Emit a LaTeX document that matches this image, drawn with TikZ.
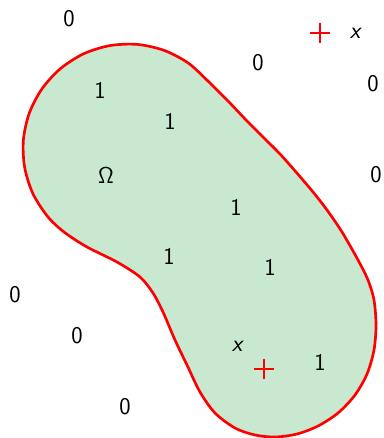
\documentclass[tikz,border=0pt]{standalone}
\begin{document}
\begin{tikzpicture}[x=0.75pt,y=-0.75pt,
  lab/.style={font=\fontsize{18}{20}\selectfont\sffamily, inner sep=0pt},
  pluss/.style={draw=red, line width=1.5pt}]
\useasboundingbox (0,0) rectangle (383,438);
\definecolor{omfill}{RGB}{200,232,208}
\draw[red, line width=2pt, fill=omfill] plot[smooth cycle, tension=0.5] coordinates {
 (208.4,81.5) (188.2,63.0) (163.9,50.3) (137.2,44.4) (109.8,45.6) (83.6,53.8) (60.5,68.6) (42.0,88.8) (29.3,113.1) (23.4,139.8) (24.6,167.2) (32.8,193.4) (47.6,216.5)
 (64,232) (87,247) (117,262) (140,277) (153,293) (163,312) (175,340) (187,365) (200,392) (215,413) (235,428) (255,435) (275,437) (297,434) (318,426) (338,413) (355,395) (367,374) (374,350) (376,325) (374,300) (368,280) (358,260) (342,232) (327,210) (313,192) (296,172) (280,154) (263,137) (247,121) (228,101)};
\node[lab] (z1) at (69,19) {0};
\node[lab] (z2) at (258,63) {0};
\node[lab] (z3) at (373,84) {0};
\node[lab] (z4) at (376,175) {0};
\node[lab] (z5) at (15,295) {0};
\node[lab] (z6) at (77,336) {0};
\node[lab] (z7) at (125,407) {0};
\node[lab] (o1) at (100,90) {1};
\node[lab] (o2) at (170,121) {1};
\node[lab] (o3) at (236,207) {1};
\node[lab] (o4) at (169,256) {1};
\node[lab] (o5) at (270,267) {1};
\node[lab] (o6) at (320,362) {1};
\node[lab] (om) at (106,176) {$\mathsf{\Omega}$};
\node[lab] (x1) at (355,33) {\itshape x};
\node[lab] (x2) at (237,346) {\itshape x};
\coordinate (p1) at (320,33);
\coordinate (p2) at (264,369);
\draw[pluss] ([xshift=-7.5pt]p1) -- ([xshift=7.5pt]p1) ([yshift=-7.5pt]p1) -- ([yshift=7.5pt]p1);
\draw[pluss] ([xshift=-7.5pt]p2) -- ([xshift=7.5pt]p2) ([yshift=-7.5pt]p2) -- ([yshift=7.5pt]p2);
\end{tikzpicture}
\end{document}
